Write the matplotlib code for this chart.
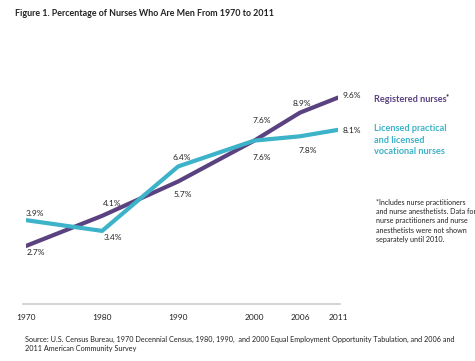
import matplotlib
matplotlib.use("Agg")
import matplotlib.pyplot as plt

years = [1970, 1980, 1990, 2000, 2006, 2011]
year_labels = ["1970", "1980", "1990", "2000", "2006", "2011"]
rn = [2.7, 4.1, 5.7, 7.6, 8.9, 9.6]
lpn = [3.9, 3.4, 6.4, 7.6, 7.8, 8.1]

title = "Figure 1. Percentage of Nurses Who Are Men From 1970 to 2011"
source = ("Source: U.S. Census Bureau, 1970 Decennial Census, 1980, 1990,  and 2000 Equal Employment Opportunity Tabulation, and 2006 and\n"
          "2011 American Community Survey")
footnote = ("*Includes nurse practitioners\nand nurse anesthetists. Data for\n"
            "nurse practitioners and nurse\nanesthetists were not shown\nseparately until 2010.")

PURPLE = "#5a4281"
CYAN = "#3cb3c9"
FONT = "Lato"
plt.rcParams['font.family'] = [FONT, 'DejaVu Sans']

W, H = 475, 361
fig = plt.figure(figsize=(W / 100, H / 100), dpi=100)
ax = fig.add_axes([26 / W, 1 - 304 / H, 312 / W, 215 / H])
ax.set_xlim(1970, 2011)
ax.set_ylim(0, 10)

ax.plot(years, rn, color=PURPLE, lw=3, solid_capstyle='round', zorder=3)
ax.plot(years, lpn, color=CYAN, lw=3, solid_capstyle='round', zorder=3)

rn_off = [(10, -7), (10, 12), (5, -13), (8, 20), (2, 9), (14, 2)]
lpn_off = [(9, 7), (11, -7), (4, 9), (8, -17), (8, -14), (14, -1)]
for x, v, (dx, dy) in zip(years, rn, rn_off):
    ax.annotate(f"{v:.1f}%", (x, v), xytext=(dx, dy), textcoords='offset pixels',
                ha='center', va='center', fontsize=6, color='#222222')
for x, v, (dx, dy) in zip(years, lpn, lpn_off):
    ax.annotate(f"{v:.1f}%", (x, v), xytext=(dx, dy), textcoords='offset pixels',
                ha='center', va='center', fontsize=6, color='#222222')

for s in ['top', 'right', 'left']:
    ax.spines[s].set_visible(False)
ax.spines['bottom'].set_color('#cccccc')
ax.spines['bottom'].set_linewidth(1.2)
ax.spines['bottom'].set_bounds(1969.6, 2011.3)
ax.set_yticks([])
ax.set_xticks(years)
ax.set_xticklabels(year_labels, fontsize=6, color='#222222')
ax.tick_params(axis='x', length=0, pad=7)
ax.patch.set_visible(False)

fig.text(15 / W, 1 - 13 / H, title, fontsize=6.4, fontweight='bold', va='center', ha='left', color='#222222')
fig.text(374 / W, 1 - 100 / H, "Registered nurses", fontsize=6.6, fontweight='bold', color=PURPLE, va='center', ha='left')
fig.text(446 / W, 1 - 97 / H, "*", fontsize=5.5, fontweight='bold', color='#222222', va='center', ha='left')
fig.text(374 / W, 1 - 140 / H, "Licensed practical\nand licensed\nvocational nurses", fontsize=6.6,
         fontweight='bold', color=CYAN, va='center', ha='left', linespacing=1.3)
fig.text(376 / W, 1 - 221 / H, footnote, fontsize=5.1, color='#222222', va='center', ha='left', linespacing=1.4)
fig.text(25 / W, 1 - 344 / H, source, fontsize=5.2, color='#222222', va='center', ha='left', linespacing=1.4)

fig.savefig("out.png", dpi=100)
